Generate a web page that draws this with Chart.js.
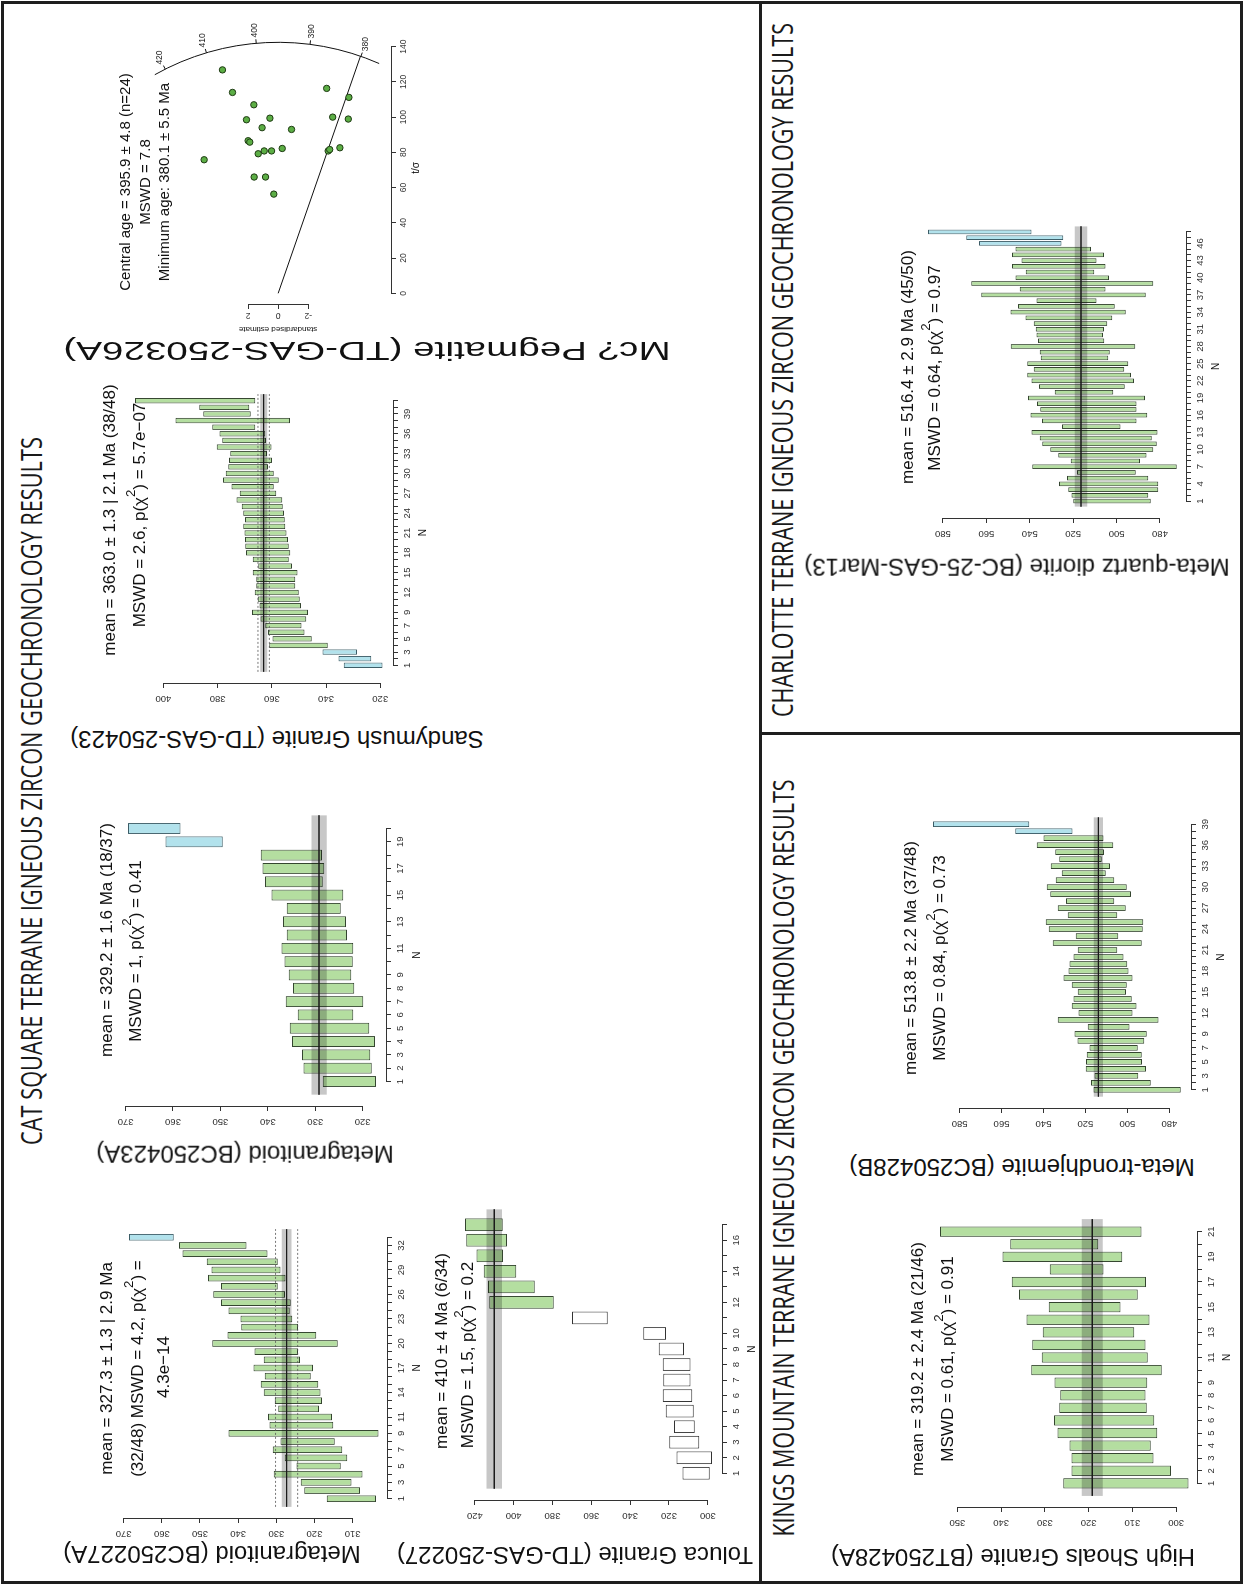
<!DOCTYPE html>
<html><head><meta charset="utf-8"><title>Igneous zircon geochronology results</title>
<script src="https://cdn.jsdelivr.net/npm/chart.js@4.4.1/dist/chart.umd.min.js"></script>
<style>
html,body{margin:0;padding:0;width:1244px;height:1585px;overflow:hidden;background:#fff}
#page{position:absolute;left:0;top:0;width:1585px;height:1244px;background:#fff;transform-origin:0 0;transform:translate(0px,1585px) rotate(-90deg);overflow:hidden}
.t{position:absolute;white-space:nowrap;line-height:1.15;color:#111;font-family:"Liberation Sans",Arial,Helvetica,sans-serif}
.h{font-family:"Open Sans",Lato,sans-serif;color:#1a1a1a}
canvas{position:absolute}
.ln{position:absolute;background:#1e1e1e}
sup{font-size:0.78em;vertical-align:0.75em;line-height:0}
</style></head><body><div id="page"></div>
<script>
// ================= DATA =================
// Metagranitoid (BC250227A)
const a_lo = [303.9,308.1,310.3,307.4,313.1,311.4,312.7,314.7,303.2,315.1,315.4,318.8,318.0,318.4,319.0,321.0,320.4,323.8,324.3,313.9,319.5,324.3,325.8,326.5,326.2,327.7,329.6,327.6,328.9,329.6,332.3,337.8,356.9];
const a_hi = [316.8,322.7,323.6,330.7,324.7,327.8,330.9,328.9,342.5,331.8,332.2,329.5,330.4,333.3,334.1,333.0,336.0,333.3,335.7,346.8,342.8,339.2,339.4,342.5,344.5,346.5,344.5,347.9,347.0,348.2,354.6,355.5,368.6];
const a_blue = [33];
const a_ageTicks = [310,320,330,340,350,360,370];
const a_nLabels = [1,3,5,7,9,11,14,17,20,23,26,29,32];
const a_stats = {mean:327.3, err:1.3, disp:2.9};

// Metagranitoid (BC250423A)
const b_lo = [317.2,318.1,318.4,317.4,318.6,322.0,319.9,321.8,322.4,322.1,322.0,323.3,323.5,324.6,324.1,328.4,328.1,328.6,349.5,358.4];
const b_hi = [328.4,332.5,332.8,334.9,335.4,333.7,336.2,334.7,335.6,336.5,337.1,336.0,336.8,336.0,339.2,340.6,341.1,341.5,361.6,369.5];
const b_blue = [19,20];
const b_ageTicks = [320,330,340,350,360,370];
const b_nLabels = [1,2,3,4,5,6,7,8,9,11,13,15,17,19];
const b_stats = {mean:329.2, err:1.6};

// Toluca Granite (TD-GAS-250227)
const c_lo = [299.0,297.8,304.4,306.7,307.2,308.0,308.9,308.9,312.3,321.5,351.5,379.3,389.1,398.6,405.5,403.4,405.6];
const c_hi = [313.0,316.1,319.8,317.4,321.7,323.2,322.9,323.2,325.3,333.2,369.9,412.6,413.2,415.4,419.1,424.4,425.1];
const c_white = [1,2,3,4,5,6,7,8,9,10,11];
const c_ageTicks = [300,320,340,360,380,400,420];
const c_nLabels = [1,2,3,4,5,6,7,8,9,10,12,14,16];
const c_stats = {mean:410, err:4};

// Sandymush Granite (TD-GAS-250423)
const d_lo = [319.2,323.3,328.6,339.4,345.3,347.9,349.0,347.3,346.6,349.2,349.7,350.1,351.3,351.3,350.5,352.5,353.7,353.2,353.7,354.0,354.6,355.0,355.2,355.5,356.0,356.1,358.4,359.3,357.4,359.3,361.4,359.9,361.8,360.1,362.1,362.4,366.1,353.3,367.8,368.3,366.1];
const d_hi = [333.5,335.4,341.3,360.9,359.7,361.4,362.4,364.2,367.3,364.5,365.2,366.3,365.7,365.7,367.0,365.0,367.0,369.5,369.8,369.9,370.1,370.5,369.9,370.5,371.1,373.0,371.8,374.9,378.0,377.0,376.1,375.8,375.3,380.3,378.3,379.3,382.0,395.5,385.3,386.8,410.5];
const d_blue = [1,2,3];
const d_ageTicks = [320,340,360,380,400];
const d_nLabels = [1,3,5,7,9,12,15,18,21,24,27,30,33,36,39];
const d_stats = {mean:363.0, err:1.3, disp:2.1};

// Mc? Pegmatite (TD-GAS-250326A) - radial plot
const e_t = [126.8,114.0,116.3,111.2,107.0,98.5,99.4,100.0,98.9,94.0,93.0,86.6,85.8,79.2,80.8,80.8,82.2,80.8,82.6,75.8,66.0,66.0,56.3,81.6];
const e_z = [3.71,3.04,-3.23,-4.71,1.62,2.11,0.55,-3.63,-4.67,1.07,-0.89,2.0,1.89,1.33,0.93,0.44,-0.27,-3.33,-4.11,4.93,1.6,0.84,0.29,-3.43];
const e_central = 395.9;
const e_minAge = 380.1;
const e_arcTicks = [380,390,400,410,420];
const e_arcRange = [376,423];
const e_xTicks = [0,20,40,60,80,100,120,140];
const e_zTicks = [-2,0,2];

// High Shoals Granite (BT250428A)
const f_lo = [297.2,301.2,305.2,305.8,304.3,305.0,306.7,307.0,306.6,303.3,306.5,307.0,309.6,306.1,312.7,308.8,306.9,316.6,312.3,317.8,307.9];
const f_hi = [325.8,323.9,323.9,324.4,327.1,327.9,326.7,326.5,327.8,333.1,330.7,332.9,330.5,334.2,329.1,335.9,337.6,328.9,339.7,337.9,354.0];
const f_ageTicks = [300,310,320,330,340,350];
const f_nLabels = [1,2,3,4,5,6,7,8,9,11,13,15,17,19,21];
const f_stats = {mean:319.2, err:2.4};

// Meta-trondhjemite (BC250428B)
const g_lo = [474.6,488.9,494.8,491.1,493.0,493.2,495.1,491.9,490.8,499.0,485.2,497.6,495.6,497.9,500.6,500.3,497.5,499.5,500.0,501.9,504.8,493.2,504.3,492.7,492.4,504.8,500.8,506.3,498.3,500.3,506.2,510.3,508.3,512.2,511.1,506.7,511.4,526.2,546.8];
const g_hi = [516.2,517.3,515.7,519.8,519.7,519.4,518.1,523.8,525.2,518.9,533.2,523.3,526.5,525.7,523.7,526.5,530.5,528.1,527.6,525.7,523.7,535.6,524.6,537.5,538.9,528.4,533.2,529.2,536.8,538.4,534.1,531.3,536.5,532.5,534.4,543.2,540.0,553.5,592.7];
const g_blue = [38,39];
const g_ageTicks = [480,500,520,540,560,580];
const g_nLabels = [1,3,5,7,9,12,15,18,21,24,27,30,33,36,39];
const g_stats = {mean:513.8, err:2.2};

// Meta-quartz diorite (BC-25-GAS-Mar13)
const h_lo = [484.3,485.4,480.8,480.8,485.4,491.2,472.3,489.2,486.2,483.1,481.5,483.8,481.1,498.2,490.8,485.8,490.8,490.8,486.9,501.5,496.2,492.0,493.4,496.5,494.6,503.8,503.1,491.4,505.7,506.2,505.8,504.3,502.0,495.8,500.8,509.2,486.5,505.1,483.1,503.5,510.3,505.1,509.2,505.8,511.8,525.4,524.6,539.2];
const h_hi = [520.0,520.8,522.3,526.5,522.8,518.2,538.8,521.1,526.9,530.5,534.2,535.4,539.2,525.1,534.3,539.7,535.1,536.6,540.8,528.5,535.7,539.2,541.2,538.2,541.1,534.9,535.4,548.8,536.2,536.9,537.2,538.2,542.0,548.9,545.4,536.9,562.3,544.6,566.9,546.6,541.8,548.2,543.8,548.2,546.6,563.4,569.2,586.9];
const h_blue = [46,47,48];
const h_ageTicks = [480,500,520,540,560,580];
const h_nLabels = [1,4,7,10,13,16,19,22,25,28,31,34,37,40,43,46];
const h_stats = {mean:516.4, err:2.9};

// ================= LAYOUT (landscape frame, rotated onto the page) =================
const GEO = {
  A:{X1:86.2,  s:8.18, ageRef:370, Yref:123.3, k:3.817, Yb:386.7},
  B:{X1:503.3, s:13.33,ageRef:370, Yref:126,   k:4.747, Yb:386.7},
  C:{X1:111.7, s:15.52,ageRef:420, Yref:475,   k:1.94,  Yb:722},
  D:{X1:920,   s:6.62, ageRef:400, Yref:163,   k:2.715, Yb:393},
  F:{X1:101.7, s:12.58,ageRef:350, Yref:957.7, k:4.37,  Yb:1197},
  G:{X1:495,   s:6.99, ageRef:580, Yref:959.3, k:2.1,   Yb:1191},
  H:{X1:1084.3,s:5.72, ageRef:580, Yref:943.3, k:2.167, Yb:1186}
};
const RAD = {X0:1292.1, kx:1.761, Y0:278.3, kz:15, axY:391, axX:1281.4, tmax:150, zmax:9.4, rArc:251};

const FILL = {g:'rgb(180,222,160)', b:'rgb(178,226,236)', w:'#ffffff'};
const EDGE = {g:'#34452f', b:'#3b5c66', w:'#333333'};
const BAND = 'rgba(0,0,0,0.22)';
const AXIS = '#333';
const TICK = '#333';

Chart.defaults.font.family = '"Liberation Sans", Arial, Helvetica, sans-serif';
Chart.defaults.animation = false;

const page = document.getElementById('page');

function addText(html, X, Y, size, o) {
  o = o || {};
  const el = document.createElement('div');
  el.className = 't' + (o.cls ? ' ' + o.cls : '');
  el.innerHTML = html;
  el.style.left = X + 'px'; el.style.top = Y + 'px'; el.style.fontSize = size + 'px';
  page.appendChild(el);
  let sx = 1;
  if (o.width) sx = o.width / el.offsetWidth;
  el.style.transform = 'translate(-50%,-50%)' + (o.rot ? ' rotate(-90deg)' : '') + (sx !== 1 ? ' scaleX(' + sx.toFixed(4) + ')' : '');
  return el;
}
function addLine(x, y, w, h) {
  const el = document.createElement('div');
  el.className = 'ln';
  el.style.cssText = 'left:' + x + 'px;top:' + y + 'px;width:' + w + 'px;height:' + h + 'px';
  page.appendChild(el);
}

// R-style axis line from first to last tick
const rAxes = {
  id: 'rAxes',
  afterDraw(chart) {
    const ctx = chart.ctx, a = chart.chartArea;
    const xs = chart.scales.x, ys = chart.scales.y;
    ctx.save(); ctx.strokeStyle = AXIS; ctx.lineWidth = 1;
    ctx.beginPath();
    const by = Math.round(a.bottom) + 0.5;
    ctx.moveTo(xs.getPixelForValue(xs.ticks[0].value), by);
    ctx.lineTo(xs.getPixelForValue(xs.ticks[xs.ticks.length - 1].value), by);
    const lx = Math.round(a.left) - 0.5;
    ctx.moveTo(lx, ys.getPixelForValue(ys.ticks[0].value));
    ctx.lineTo(lx, ys.getPixelForValue(ys.ticks[ys.ticks.length - 1].value));
    ctx.stroke(); ctx.restore();
  }
};

function makeCanvas(left, top, w, h) {
  const c = document.createElement('canvas');
  c.width = w; c.height = h;
  c.style.left = left + 'px'; c.style.top = top + 'px';
  c.style.width = w + 'px'; c.style.height = h + 'px';
  page.appendChild(c);
  return c;
}

function hline(y, x0, x1, color, width, dash, fill, bg) {
  return {type:'line', data:[{x:x0, y:y}, {x:x1, y:y}], borderColor:color, borderWidth:width,
    borderDash:dash || [], pointRadius:0, fill:fill || false, backgroundColor:bg || 'rgba(0,0,0,0)', order:2};
}

function wmPlot(geo, lo, hi, status, ageTicks, nLabels, st) {
  const n = lo.length;
  const xmin = -0.04 * (n + 1), xmax = 1.04 * (n + 1);
  const L = geo.X1 + (xmin - 1) * geo.s, R = geo.X1 + (xmax - 1) * geo.s;
  const ymin = geo.ageRef - (geo.Yb - geo.Yref) / geo.k;
  const hmax = Math.max.apply(null, hi), lmin = Math.min.apply(null, lo);
  const ymax = Math.max(hmax + 0.04 * (hmax - lmin), ageTicks[ageTicks.length - 1]);
  const T = geo.Yref + (geo.ageRef - ymax) * geo.k, B = geo.Yb;
  const pad = {l:40, r:16, t:16, b:30};
  const cx = Math.round(L - pad.l), cy = Math.round(T - pad.t);
  const w = Math.round(R - L) + pad.l + pad.r, h = Math.round(B - T) + pad.t + pad.b;
  const canvas = makeCanvas(cx, cy, w, h);
  const nTicks = []; for (let i = 1; i <= n; i++) nTicks.push(i);
  const ds = [
    {type:'bar', data: lo.map((v, i) => ({x:i + 1, y:[v, hi[i]]})),
     backgroundColor: status.map(s => FILL[s]), borderColor: status.map(s => EDGE[s]),
     borderWidth:1, borderSkipped:false, barPercentage:0.82, categoryPercentage:1, order:5},
    hline(st.mean - st.err, 0, n + 1, 'rgba(0,0,0,0)', 1),
    hline(st.mean + st.err, 0, n + 1, 'rgba(0,0,0,0)', 1, null, '-1', BAND),
    Object.assign(hline(st.mean, 0, n + 1, '#1a1a1a', 1.4), {order:1})
  ];
  if (st.disp) {
    ds.push(Object.assign(hline(st.mean - st.disp, 0, n + 1, '#555', 0.8, [2, 2]), {order:1}));
    ds.push(Object.assign(hline(st.mean + st.disp, 0, n + 1, '#555', 0.8, [2, 2]), {order:1}));
  }
  new Chart(canvas, {
    type:'bar',
    data:{datasets:ds},
    options:{
      responsive:false, animation:false, devicePixelRatio:1,
      layout:{padding:{left:0, top:pad.t, right:pad.r, bottom:0}},
      plugins:{legend:{display:false}, tooltip:{enabled:false}},
      scales:{
        x:{type:'linear', min:xmin, max:xmax, offset:false,
           grid:{offset:false, drawOnChartArea:false, drawTicks:true, tickLength:5, color:AXIS, lineWidth:1},
           border:{display:false},
           ticks:{autoSkip:false, minRotation:0, maxRotation:0, padding:4, font:{size:9.5}, color:TICK,
                  callback:v => nLabels.indexOf(v) >= 0 ? String(v) : ''},
           afterBuildTicks:s => { s.ticks = nTicks.map(v => ({value:v})); },
           afterFit:s => { s.height = pad.b; }},
        y:{type:'linear', min:ymin, max:ymax, beginAtZero:false,
           grid:{drawOnChartArea:false, drawTicks:true, tickLength:5, color:AXIS, lineWidth:1},
           border:{display:false},
           ticks:{minRotation:90, maxRotation:90, crossAlign:'center', padding:3, font:{size:9.5}, color:TICK},
           afterBuildTicks:s => { s.ticks = ageTicks.map(v => ({value:v})); },
           afterFit:s => { s.width = pad.l; }}
      }
    },
    plugins:[rAxes]
  });
  return {nCenterX: geo.X1 + (n - 1) / 2 * geo.s, Yb: geo.Yb};
}

function statusOf(n, blue, white) {
  const out = [];
  for (let i = 1; i <= n; i++) out.push(blue && blue.indexOf(i) >= 0 ? 'b' : (white && white.indexOf(i) >= 0 ? 'w' : 'g'));
  return out;
}

// ---------- radial plot ----------
const arcPlugin = {
  id:'arcAxis',
  afterDatasetsDraw(chart) {
    const ctx = chart.ctx, xs = chart.scales.x, ys = chart.scales.y;
    const ox = xs.getPixelForValue(0), oy = ys.getPixelForValue(0);
    const ux = xs.getPixelForValue(1) - ox, uz = ys.getPixelForValue(1) - oy;
    const ang = a => Math.atan2(uz * Math.log(a / e_central), ux);
    const r = RAD.rArc;
    ctx.save(); ctx.strokeStyle = '#111'; ctx.lineWidth = 1;
    ctx.beginPath(); ctx.arc(ox, oy, r, ang(e_arcRange[1]), ang(e_arcRange[0])); ctx.stroke();
    ctx.font = '8.5px "Liberation Sans", Arial'; ctx.fillStyle = '#222';
    ctx.textAlign = 'center'; ctx.textBaseline = 'middle';
    e_arcTicks.forEach(a => {
      const t = ang(a), c = Math.cos(t), s = Math.sin(t);
      ctx.beginPath(); ctx.moveTo(ox + r * c, oy + r * s); ctx.lineTo(ox + (r + 4) * c, oy + (r + 4) * s); ctx.stroke();
      ctx.fillText(String(a), ox + (r + 13) * c, oy + (r + 13) * s);
    });
    ctx.restore();
  }
};

function radialPlot() {
  const g = RAD;
  const tmin = (g.axX - g.X0) / g.kx, zmin = (g.Y0 - g.axY) / g.kz;
  const L = g.axX, R = g.X0 + g.tmax * g.kx, T = g.Y0 - g.zmax * g.kz, B = g.axY;
  const pad = {l:40, r:34, t:18, b:30};
  const cx = Math.round(L - pad.l), cy = Math.round(T - pad.t);
  const w = Math.round(R - L) + pad.l + pad.r, h = Math.round(B - T) + pad.t + pad.b;
  const canvas = makeCanvas(cx, cy, w, h);
  const m = Math.log(e_minAge / e_central);
  const th = Math.atan2(-g.kz * m, g.kx);
  const tE = g.rArc * Math.cos(th) / g.kx, zE = -g.rArc * Math.sin(th) / g.kz;
  new Chart(canvas, {
    type:'scatter',
    data:{datasets:[
      {type:'line', data:[{x:0, y:0}, {x:tE, y:zE}], borderColor:'#111', borderWidth:1, pointRadius:0, order:2},
      {type:'scatter', data:e_t.map((t, i) => ({x:t, y:e_z[i]})), pointRadius:3.2,
       backgroundColor:'#5cae45', borderColor:'#1f3a14', borderWidth:1, order:1}
    ]},
    options:{
      responsive:false, animation:false, devicePixelRatio:1,
      layout:{padding:{left:0, top:pad.t, right:pad.r, bottom:0}},
      plugins:{legend:{display:false}, tooltip:{enabled:false}},
      scales:{
        x:{type:'linear', min:tmin, max:g.tmax,
           grid:{drawOnChartArea:false, tickLength:5, color:AXIS}, border:{display:false},
           ticks:{autoSkip:false, maxRotation:0, padding:3, font:{size:8.5}, color:TICK},
           afterBuildTicks:s => { s.ticks = e_xTicks.map(v => ({value:v})); },
           afterFit:s => { s.height = pad.b; }},
        y:{type:'linear', min:zmin, max:g.zmax,
           grid:{drawOnChartArea:false, tickLength:5, color:AXIS}, border:{display:false},
           ticks:{minRotation:90, maxRotation:90, crossAlign:'center', padding:3, font:{size:8.5}, color:TICK},
           afterBuildTicks:s => { s.ticks = e_zTicks.map(v => ({value:v})); },
           afterFit:s => { s.width = pad.l; }}
      }
    },
    plugins:[rAxes, arcPlugin]
  });
}

// ================= BUILD =================
const frame = document.createElement('div');
frame.style.cssText = 'position:absolute;left:1px;top:1px;width:1583px;height:1242px;box-sizing:border-box;border:3px solid #1e1e1e';
page.appendChild(frame);
addLine(1, 758.5, 1583, 3);
addLine(850, 760, 3, 483);

// headers
addText('CAT SQUARE TERRANE IGNEOUS ZIRCON GEOCHRONOLOGY RESULTS', 794, 31, 30, {cls:'h', width:708});
addText('KINGS MOUNTAIN TERRANE IGNEOUS ZIRCON GEOCHRONOLOGY RESULTS', 427, 783, 30, {cls:'h', width:757});
addText('CHARLOTTE TERRANE IGNEOUS ZIRCON GEOCHRONOLOGY RESULTS', 1215, 782, 30, {cls:'h', width:694});

const pA = wmPlot(GEO.A, a_lo, a_hi, statusOf(a_lo.length, a_blue), a_ageTicks, a_nLabels, a_stats);
const pB = wmPlot(GEO.B, b_lo, b_hi, statusOf(b_lo.length, b_blue), b_ageTicks, b_nLabels, b_stats);
const pC = wmPlot(GEO.C, c_lo, c_hi, statusOf(c_lo.length, null, c_white), c_ageTicks, c_nLabels, c_stats);
const pD = wmPlot(GEO.D, d_lo, d_hi, statusOf(d_lo.length, d_blue), d_ageTicks, d_nLabels, d_stats);
const pF = wmPlot(GEO.F, f_lo, f_hi, statusOf(f_lo.length), f_ageTicks, f_nLabels, f_stats);
const pG = wmPlot(GEO.G, g_lo, g_hi, statusOf(g_lo.length, g_blue), g_ageTicks, g_nLabels, g_stats);
const pH = wmPlot(GEO.H, h_lo, h_hi, statusOf(h_lo.length, h_blue), h_ageTicks, h_nLabels, h_stats);
radialPlot();

[pA, pB, pC, pD, pF, pG, pH].forEach(p => addText('N', p.nCenterX, p.Yb + 30, 10, {}));
addText('t/σ', 1417, 416, 10, {});
addText('standardised estimate', 1256, 278, 8, {rot:true});

// sample titles
addText('Metagranitoid (BC250227A)', 30.5, 212, 24, {rot:true});
addText('Metagranitoid (BC250423A)', 430.5, 245, 24, {rot:true});
addText('Toluca Granite (TD-GAS-250227)', 30, 575, 24, {rot:true});
addText('Sandymush Granite (TD-GAS-250423)', 846, 277, 24, {rot:true});
addText('Mc? Pegmatite (TD-GAS-250326A)', 1233.5, 366.5, 25, {rot:true, width:607});
addText('High Shoals Granite (BT250428A)', 28, 1013, 24, {rot:true});
addText('Meta-trondhjemite (BC250428B)', 417.5, 1021.5, 24, {rot:true});
addText('Meta-quartz diorite (BC-25-GAS-Mar13)', 1017.5, 1016.5, 24, {rot:true});

// statistics
const S = 17;
addText('mean = 327.3 ± 1.3 | 2.9 Ma', 216.5, 107, S);
addText('(32/48) MSWD = 4.2, p(χ<sup>2</sup>) =', 216.5, 138, S);
addText('4.3e−14', 218, 164, S);
addText('mean = 329.2 ± 1.6 Ma (18/37)', 645, 107, S);
addText('MSWD = 1, p(χ<sup>2</sup>) = 0.41', 634, 136, S);
addText('mean = 410 ± 4 Ma (6/34)', 234, 442, S);
addText('MSWD = 1.5, p(χ<sup>2</sup>) = 0.2', 230, 468, S);
addText('mean = 363.0 ± 1.3 | 2.1 Ma (38/48)', 1065, 110, S);
addText('MSWD = 2.6, p(χ<sup>2</sup>) = 5.7e−07', 1070, 140, S);
addText('Central age = 395.9 ± 4.8 (n=24)', 1403, 125, 15);
addText('MSWD = 7.8', 1403, 145, 15);
addText('Minimum age: 380.1 ± 5.5 Ma', 1403, 164, 15);
addText('mean = 319.2 ± 2.4 Ma (21/46)', 226, 918, S);
addText('MSWD = 0.61, p(χ<sup>2</sup>) = 0.91', 226, 948, S);
addText('mean = 513.8 ± 2.2 Ma (37/48)', 627, 911, S);
addText('MSWD = 0.84, p(χ<sup>2</sup>) = 0.73', 627, 940, S);
addText('mean = 516.4 ± 2.9 Ma (45/50)', 1218, 908, S);
addText('MSWD = 0.64, p(χ<sup>2</sup>) = 0.97', 1217, 935, S);
</script></body></html>
